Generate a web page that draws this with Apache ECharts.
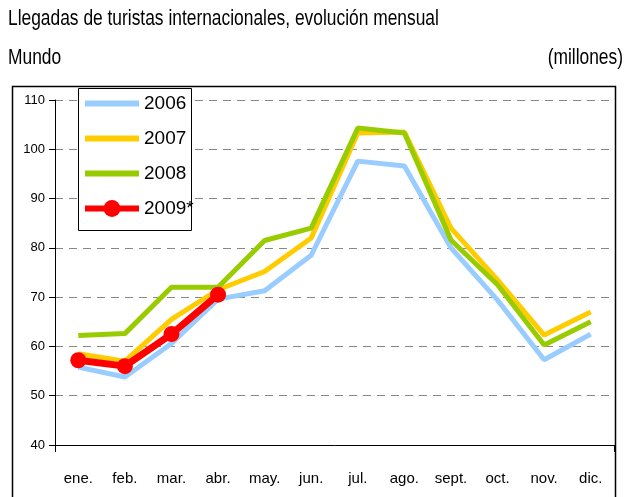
<!DOCTYPE html>
<html>
<head>
<meta charset="utf-8">
<script src="https://cdn.jsdelivr.net/npm/echarts@6/dist/echarts.min.js"></script>
<style>
  html, body { margin: 0; padding: 0; background: #fff; }
  #chart { width: 626px; height: 497px; }
</style>
</head>
<body>
<div id="chart"></div>
<script>
const months = ['ene.', 'feb.', 'mar.', 'abr.', 'may.', 'jun.', 'jul.', 'ago.', 'sept.', 'oct.', 'nov.', 'dic.'];
const y2006 = [55.8, 53.8, 60.6, 69.6, 71.3, 78.5, 97.6, 96.6, 80.0, 69.4, 57.3, 62.5];
const y2007 = [58.5, 57.0, 65.5, 71.5, 75.2, 82.0, 103.3, 103.5, 84.0, 73.5, 62.3, 67.0];
const y2008 = [62.2, 62.6, 72.0, 72.0, 81.5, 84.0, 104.3, 103.3, 81.6, 72.5, 60.3, 65.0];
const y2009 = [57.2, 56.0, 62.5, 70.5];

const sans = '"Liberation Sans", Arial, sans-serif';

let chart = echarts.init(document.getElementById('chart'));

function lineSeries(name, data, color, width) {
    return {
        name: name,
        type: 'line',
        data: data,
        symbol: 'none',
        lineStyle: { color: color, width: width },
        itemStyle: { color: color },
        z: 2
    };
}

function headText(text, x, y, align) {
    return {
        type: 'text', x: x, y: y, scaleX: 0.79, z: 10,
        style: { text: text, font: '22px ' + sans, fill: '#000', align: align, verticalAlign: 'middle' }
    };
}

chart.setOption({
    animation: false,
    graphic: [
        headText('Llegadas de turistas internacionales, evolución mensual', 8, 19, 'left'),
        headText('Mundo', 8, 58, 'left'),
        headText('(millones)', 623, 58, 'right'),
        { type: 'rect', shape: { x: 12.5, y: 86.5, width: 603, height: 420 },
          style: { fill: 'none', stroke: '#000', lineWidth: 1.5 }, z: 0 },
        { type: 'rect', shape: { x: 78.5, y: 88.5, width: 113, height: 142 },
          style: { fill: '#fff', stroke: '#000', lineWidth: 1 }, z: 5 }
    ],
    legend: {
        left: 82,
        top: 94,
        padding: 0,
        orient: 'vertical',
        itemWidth: 54,
        itemHeight: 21,
        itemGap: 16,
        z: 6,
        lineStyle: { width: 6 },
        textStyle: { fontFamily: sans, fontSize: 19, color: '#000' },
        data: [
            { name: '2006', itemStyle: { opacity: 0 } },
            { name: '2007', itemStyle: { opacity: 0 } },
            { name: '2008', itemStyle: { opacity: 0 } },
            { name: '2009*' }
        ]
    },
    grid: { left: 55, right: 12, top: 100, bottom: 52, containLabel: false },
    xAxis: {
        type: 'category',
        data: months,
        boundaryGap: true,
        axisLine: { lineStyle: { color: '#000', width: 1 } },
        axisTick: { show: true, length: 7, interval: function (i) { return i === 0; }, lineStyle: { color: '#000' } },
        axisLabel: { fontFamily: sans, fontSize: 15, color: '#000', margin: 26 }
    },
    yAxis: {
        type: 'value',
        min: 40,
        max: 110,
        interval: 10,
        axisLine: { show: true, lineStyle: { color: '#000', width: 1 } },
        axisTick: { show: true, length: 6, lineStyle: { color: '#000' } },
        axisLabel: { fontFamily: sans, fontSize: 13, color: '#000', margin: 10 },
        splitLine: { lineStyle: { color: '#888', type: [8, 6], width: 1 } }
    },
    series: [
        lineSeries('2006', y2006, '#99ccff', 5),
        lineSeries('2007', y2007, '#ffcc00', 5),
        lineSeries('2008', y2008, '#99cc00', 5),
        {
            name: '2009*',
            type: 'line',
            data: y2009,
            symbol: 'circle',
            symbolSize: 16,
            lineStyle: { color: '#ff0000', width: 7 },
            itemStyle: { color: '#ff0000' },
            z: 3
        }
    ]
});
</script>
</body>
</html>
